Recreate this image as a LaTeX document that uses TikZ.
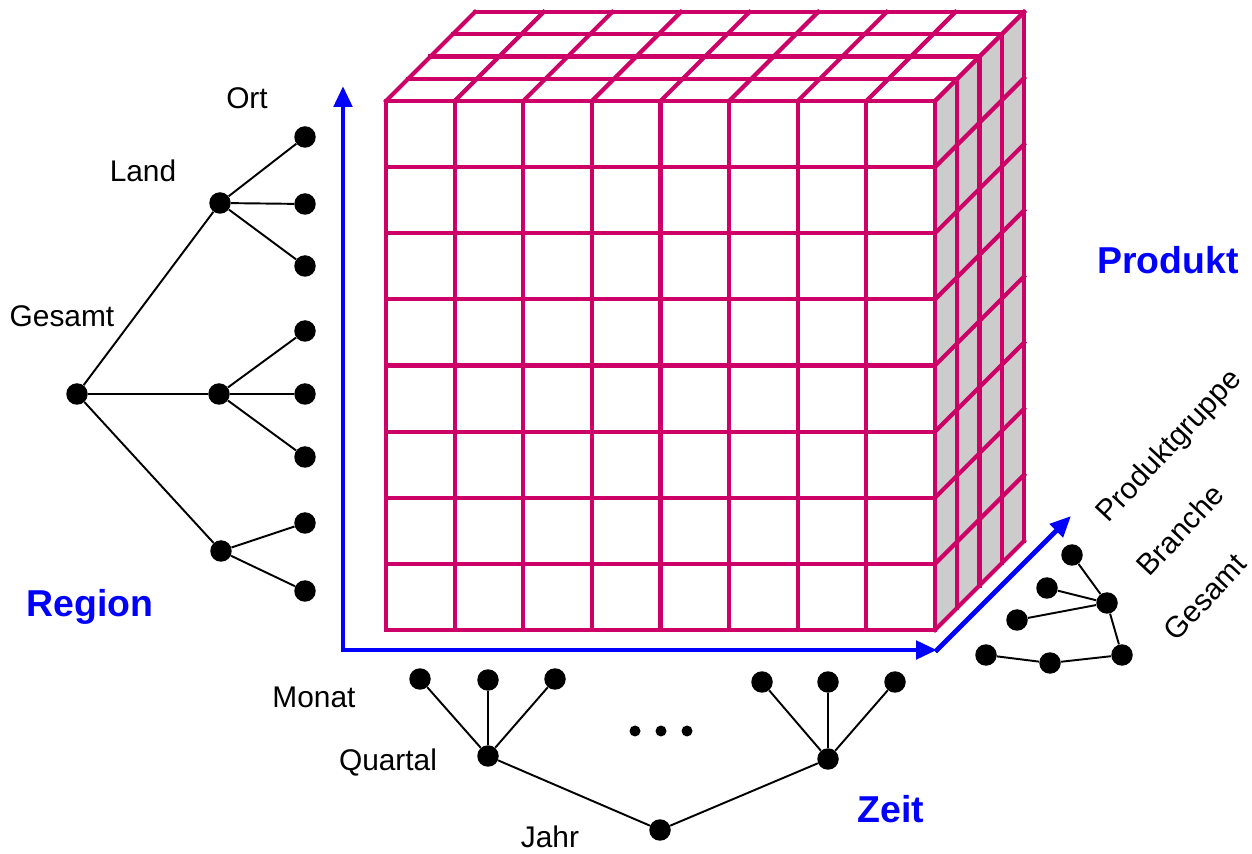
\documentclass[tikz,border=0pt]{standalone}
\usepackage{fontspec}
\setmainfont{Liberation Sans}
\definecolor{cubemag}{RGB}{204,0,102}
\definecolor{axblue}{RGB}{0,0,255}
\definecolor{sidegray}{RGB}{204,204,204}
\usetikzlibrary{arrows.meta}

\begin{document}
\begin{tikzpicture}[x=0.02cm, y=-0.02cm,
  dot/.style={circle, fill=black, inner sep=0pt, minimum size=0.43cm},
  smalldot/.style={circle, fill=black, inner sep=0pt, minimum size=0.22cm},
  edge/.style={line width=1.1pt},
  cell/.style={cubemag, line width=2.4pt, line cap=rect},
  axis/.style={axblue, line width=2.8pt, line cap=rect, -{Triangle[length=0.42cm, width=0.36cm]}},
  lbl/.style={font=\fontsize{17}{20}\selectfont},
  dim/.style={font=\fontsize{21.3}{24}\selectfont\bfseries, text=axblue}]
  \useasboundingbox (0,0) rectangle (1252,854);

  % Cube faces
  \fill[sidegray] (935,101) -- (1024,12) -- (1024,541) -- (935,630) -- cycle;
  \fill[white] (386,101) -- (475,12) -- (1024,12) -- (935,101) -- cycle;

  % Cube grid
  \foreach \i in {0,...,8} {
    \draw[cell] ({386+\i*68.625},101) -- ({386+\i*68.625},630);
    \draw[cell] (386,{101+\i*66.125}) -- (935,{101+\i*66.125});
    \draw[cell] ({386+\i*68.625},101) -- ++(89,-89);
    \draw[cell] (935,{101+\i*66.125}) -- ++(89,-89);
  }
  \foreach \k in {1,...,4}
    \draw[cell] ({386+\k*22.25},{101-\k*22.25}) -- ({935+\k*22.25},{101-\k*22.25}) -- ({935+\k*22.25},{630-\k*22.25});

  % Axes
  \coordinate (o) at (343,650);
  \coordinate (ytip) at (343,86);
  \coordinate (xtip) at (937,650);
  \coordinate (ztip) at (1071,516);
  \draw[axis] (o) -- (ytip);
  \draw[axis] (o) -- (xtip);
  \draw[axis] (xtip) -- (ztip);

  \node[dim] (produkt) at (1168,260) {Produkt};
  \node[dim] (region) at (90,607) {Region};
  \node[dim] (zeit) at (891,809) {Zeit};

  % Region hierarchy
  \node[lbl] (ortlbl) at (247,98) {Ort};
  \node[lbl] (landlbl) at (143,171) {Land};
  \node[lbl] (gesamtlbl) at (62,316) {Gesamt};

  \node[dot] (rg) at (77,394) {};
  \node[dot] (la) at (220,203) {};
  \node[dot] (lb) at (219,394) {};
  \node[dot] (lc) at (221,551) {};
  \node[dot] (oa) at (305,137) {};
  \node[dot] (ob) at (305,204) {};
  \node[dot] (oc) at (305,266) {};
  \node[dot] (od) at (305,331) {};
  \node[dot] (oe) at (305,394) {};
  \node[dot] (of) at (305,457) {};
  \node[dot] (og) at (305,523) {};
  \node[dot] (oh) at (305,591) {};
  \foreach \a/\b in {rg/la, rg/lb, rg/lc, la/oa, la/ob, la/oc, lb/od, lb/oe, lb/of, lc/og, lc/oh}
    \draw[edge] (\a) -- (\b);

  % Time hierarchy
  \node[lbl] (monatlbl) at (314,697) {Monat};
  \node[lbl] (quartallbl) at (388,763) {Quartal};
  \node[lbl] (jahrlbl) at (550,837) {Jahr};

  \node[dot] (ma) at (420,679) {};
  \node[dot] (mb) at (488,680) {};
  \node[dot] (mc) at (555,679) {};
  \node[dot] (md) at (762,682) {};
  \node[dot] (me) at (828,682) {};
  \node[dot] (mf) at (895,682) {};
  \node[dot] (qa) at (488,756) {};
  \node[dot] (qb) at (828,759) {};
  \node[dot] (jr) at (660,830) {};
  \foreach \a/\b in {qa/ma, qa/mb, qa/mc, qb/md, qb/me, qb/mf, jr/qa, jr/qb}
    \draw[edge] (\a) -- (\b);
  \node[smalldot] (da) at (635,731) {};
  \node[smalldot] (db) at (661,731) {};
  \node[smalldot] (dc) at (687,731) {};

  % Product hierarchy
  \node[lbl, rotate=47] (pglbl) at (1170,447) {Produktgruppe};
  \node[lbl, rotate=47] (brlbl) at (1180,530) {Branche};
  \node[lbl, rotate=47] (pgeslbl) at (1205,597) {Gesamt};

  \node[dot] (pa) at (1072,555) {};
  \node[dot] (pb) at (1047,588) {};
  \node[dot] (pc) at (1017,620) {};
  \node[dot] (br) at (1107,603) {};
  \node[dot] (pd) at (986,655) {};
  \node[dot] (be) at (1050,663) {};
  \node[dot] (pr) at (1122,655) {};
  \foreach \a/\b in {br/pa, br/pb, br/pc, pr/br, be/pd, pr/be}
    \draw[edge] (\a) -- (\b);
\end{tikzpicture}
\end{document}
